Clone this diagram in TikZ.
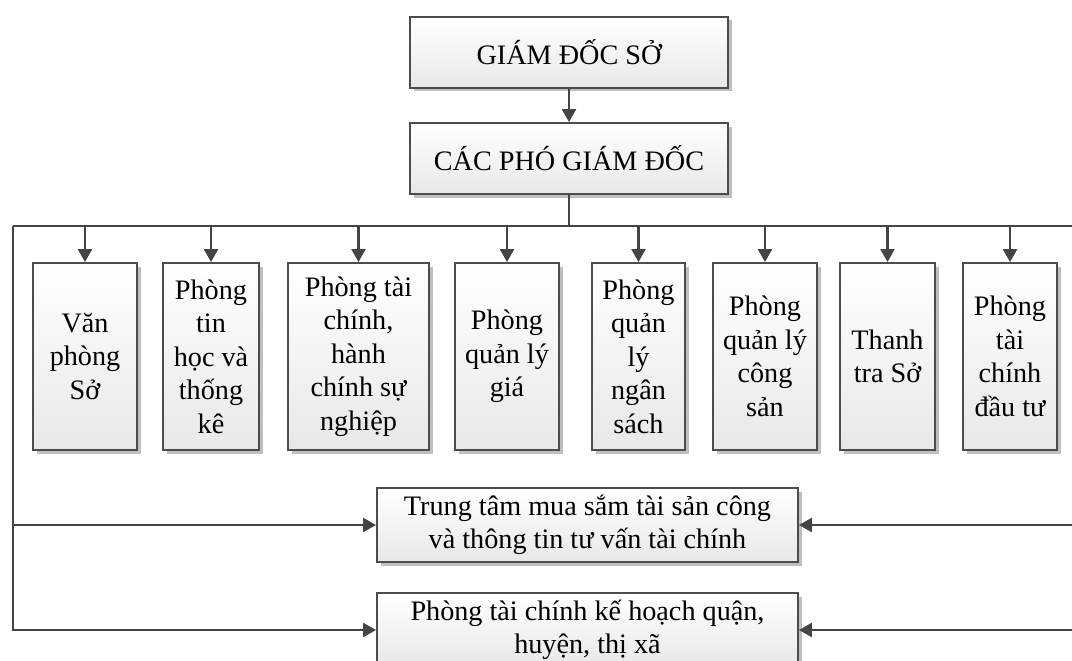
\documentclass[tikz,border=0pt]{standalone}
\usepackage{fontspec}
\setmainfont{Liberation Serif}
\usetikzlibrary{arrows.meta,shadows}
\definecolor{edgegray}{HTML}{4C4C4C}
\definecolor{linegray}{HTML}{444444}
\begin{document}
\begin{tikzpicture}[x=1pt,y=-1pt,
  box/.style={draw=edgegray, line width=1.9pt, top color=white, bottom color=black!9,
    drop shadow={shadow xshift=3.5pt, shadow yshift=-3.5pt, fill=black!25, opacity=1},
    align=center, inner sep=0pt, text=black,
    font=\fontsize{28.2}{33.5}\selectfont},
  link/.style={draw=linegray, line width=2.4pt},
  arr/.style={link, -{Triangle[width=14pt,length=13pt]}}]
\clip (0,0) rectangle (1072,661);
\fill[white] (0,0) rectangle (1072,661);

% director and deputies
\node[box, minimum width=318pt, minimum height=71pt] (gd) at (569,52.5) {GIÁM ĐỐC SỞ};
\node[box, minimum width=318pt, minimum height=71pt] (pgd) at (569,158.5) {CÁC PHÓ GIÁM ĐỐC};

% departments
\begin{scope}[every node/.append style={minimum height=187pt}]
\node[box, minimum width=104pt] (p1) at (85,356.5) {Văn\\phòng\\Sở};
\node[box, minimum width=96pt]  (p2) at (211,356.5) {Phòng\\tin\\học và\\thống\\kê};
\node[box, minimum width=141pt] (p3) at (358.5,356.5) {Phòng tài\\chính,\\hành\\chính sự\\nghiệp};
\node[box, minimum width=104pt] (p4) at (507,356.5) {Phòng\\quản lý\\giá};
\node[box, minimum width=93pt]  (p5) at (638.5,356.5) {Phòng\\quản\\lý\\ngân\\sách};
\node[box, minimum width=104pt] (p6) at (765,356.5) {Phòng\\quản lý\\công\\sản};
\node[box, minimum width=95pt]  (p7) at (887.5,356.5) {Thanh\\tra Sở};
\node[box, minimum width=94pt]  (p8) at (1010,356.5) {Phòng\\tài\\chính\\đầu tư};
\end{scope}

% lower units
\node[box, minimum width=421pt, minimum height=74pt] (tt) at (587.5,525)
  {Trung tâm mua sắm tài sản công\\và thông tin tư vấn tài chính};
\node[box, minimum width=421pt, minimum height=74pt] (ph) at (587.5,630)
  {Phòng tài chính kế hoạch quận,\\huyện, thị xã};

% connectors
\coordinate (lc) at (13,226);
\coordinate (rc) at (1085,226);
\draw[arr] (gd.south) -- (pgd.north);
\draw[link] (pgd.south) -- (pgd.south |- lc);
\draw[link] (lc) -- (rc);
\foreach \p in {p1,p2,p3,p4,p5,p6,p7,p8}
  \draw[arr] (\p.north |- lc) -- (\p.north);
\draw[arr] (lc) |- (tt.west);
\draw[arr] (lc) |- (ph.west);
\draw[arr] (rc) |- (tt.east);
\draw[arr] (rc) |- (ph.east);
\end{tikzpicture}
\end{document}
